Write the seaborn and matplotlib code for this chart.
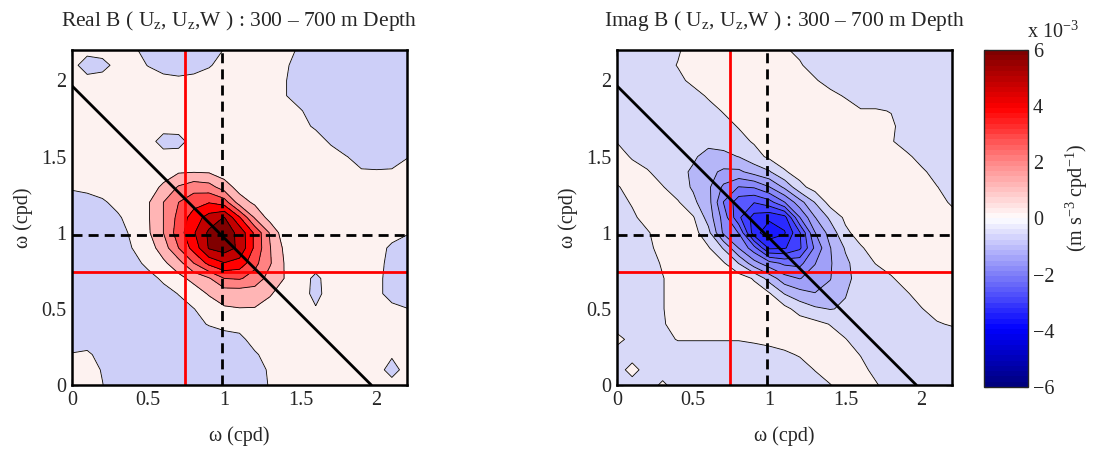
import numpy as np
import matplotlib
matplotlib.use("Agg")
import matplotlib.pyplot as plt
import seaborn as sns
from matplotlib.colors import Normalize, ListedColormap
from matplotlib.cm import ScalarMappable

# ---------------- data (values in units of 1e-3 m s^-3 cpd^-1) ----------------
omega = [0.0, 0.1, 0.2, 0.3, 0.4, 0.5, 0.6, 0.7, 0.8, 0.9, 1.0, 1.1,
         1.2, 1.3, 1.4, 1.5, 1.6, 1.7, 1.8, 1.9, 2.0, 2.1, 2.2]

# rows: omega_2 (y) from 0.0 to 2.2 ; columns: omega_1 (x) from 0.0 to 2.2
real_B = [
    [0.3, 0.3, 0.02, -0.4, -0.4, -0.4, -0.4, -0.4, -0.4, -0.4, -0.4, -0.4, -0.3, 0.05, 0.3, 0.3, 0.3, 0.3, 0.3, 0.3, 0.3, 0.3, 0.3],
    [0.3, 0.3, -0.05, -0.4, -0.4, -0.4, -0.4, -0.4, -0.4, -0.4, -0.4, -0.4, -0.3, 0.1, 0.3, 0.3, 0.3, 0.3, 0.3, 0.3, 0.3, -0.3, 0.3],
    [0.05, 0.15, -0.3, -0.4, -0.4, -0.4, -0.4, -0.4, -0.4, -0.4, -0.4, -0.4, -0.1, 0.3, 0.3, 0.3, 0.3, 0.3, 0.3, 0.3, 0.3, 0.1, 0.3],
    [-0.4, -0.4, -0.4, -0.4, -0.4, -0.4, -0.4, -0.4, -0.4, -0.4, -0.4, -0.2, 0.3, 0.3, 0.3, 0.3, 0.3, 0.3, 0.3, 0.3, 0.3, 0.3, 0.3],
    [-0.4, -0.4, -0.4, -0.4, -0.4, -0.4, -0.4, -0.4, -0.2, 0.05, 0.3, 0.3, 0.3, 0.3, 0.3, 0.3, 0.3, 0.3, 0.3, 0.3, 0.3, 0.3, 0.3],
    [-0.4, -0.4, -0.4, -0.4, -0.4, -0.4, -0.4, -0.2, -0.02, 0.4, 0.9, 0.97, 0.95, 0.6, 0.35, 0.3, 0.05, 0.3, 0.3, 0.3, 0.3, 0.2, 0.02],
    [-0.4, -0.4, -0.4, -0.4, -0.4, -0.4, -0.2, 0.02, 0.5, 1.1, 1.4, 1.4, 1.45, 1.1, 0.5, 0.3, -0.2, 0.3, 0.3, 0.3, 0.2, -0.3, -0.4],
    [-0.4, -0.4, -0.4, -0.4, -0.4, -0.2, 0.1, 0.7, 1.3, 1.9, 3.0, 3.1, 2.6, 1.6, 0.95, 0.3, -0.15, 0.3, 0.3, 0.3, 0.2, -0.3, -0.4],
    [-0.4, -0.4, -0.4, -0.4, -0.2, 0.15, 0.8, 1.6, 3.0, 4.3, 4.95, 4.6, 3.3, 2.1, 0.9, 0.3, 0.3, 0.3, 0.3, 0.3, 0.2, -0.2, -0.4],
    [-0.4, -0.4, -0.4, -0.3, 0.02, 0.5, 1.5, 3.0, 4.4, 6.1, 6.5, 5.8, 3.8, 2.05, 0.75, 0.3, 0.3, 0.3, 0.3, 0.3, 0.2, -0.1, -0.3],
    [-0.4, -0.4, -0.4, -0.2, 0.1, 0.85, 2.0, 3.5, 4.9, 6.2, 6.6, 5.7, 3.8, 1.9, 0.3, 0.3, 0.3, 0.3, 0.3, 0.3, 0.3, 0.2, 0.05],
    [-0.4, -0.4, -0.3, -0.1, 0.3, 0.9, 2.0, 3.3, 4.5, 5.4, 6.05, 4.1, 1.9, 0.6, 0.3, 0.3, 0.3, 0.3, 0.3, 0.3, 0.3, 0.3, 0.3],
    [-0.3, -0.3, -0.1, 0.2, 0.4, 0.9, 2.0, 3.0, 3.6, 3.95, 3.5, 1.5, 0.8, 0.3, 0.3, 0.3, 0.3, 0.3, 0.3, 0.3, 0.3, 0.3, 0.3],
    [0.08, 0.2, 0.3, 0.3, 0.35, 0.5, 1.2, 2.1, 2.6, 2.4, 1.5, 0.6, 0.3, 0.3, 0.3, 0.3, 0.3, 0.3, 0.3, 0.3, 0.3, 0.3, 0.3],
    [0.3, 0.3, 0.3, 0.3, 0.3, 0.35, 0.5, 0.9, 0.95, 0.9, 0.5, 0.3, 0.3, 0.3, 0.3, 0.3, 0.3, 0.3, 0.3, 0.05, 0.05, 0.05, 0.15],
    [0.3, 0.3, 0.3, 0.3, 0.3, 0.3, 0.3, 0.3, 0.3, 0.3, 0.3, 0.3, 0.3, 0.3, 0.3, 0.3, 0.3, 0.3, 0.02, -0.2, -0.3, -0.2, -0.02],
    [0.3, 0.3, 0.3, 0.3, 0.3, 0.3, -0.3, -0.25, 0.3, 0.3, 0.3, 0.3, 0.3, 0.3, 0.3, 0.3, 0.3, -0.1, -0.35, -0.4, -0.4, -0.4, -0.3],
    [0.3, 0.3, 0.3, 0.3, 0.3, 0.3, 0.3, 0.3, 0.3, 0.3, 0.3, 0.3, 0.3, 0.3, 0.3, 0.2, -0.1, -0.3, -0.4, -0.4, -0.4, -0.4, -0.4],
    [0.3, 0.3, 0.3, 0.3, 0.3, 0.3, 0.3, 0.3, 0.3, 0.3, 0.3, 0.3, 0.3, 0.3, 0.3, 0.05, -0.3, -0.4, -0.4, -0.4, -0.4, -0.4, -0.4],
    [0.3, 0.3, 0.3, 0.3, 0.3, 0.3, 0.3, 0.3, 0.3, 0.3, 0.3, 0.3, 0.3, 0.3, 0.03, -0.3, -0.4, -0.4, -0.4, -0.4, -0.4, -0.4, -0.4],
    [0.3, 0.2, 0.25, 0.3, 0.3, 0.25, 0.15, 0.1, 0.15, 0.25, 0.3, 0.3, 0.3, 0.3, 0.03, -0.3, -0.4, -0.4, -0.4, -0.4, -0.4, -0.4, -0.4],
    [0.2, -0.3, -0.2, 0.2, 0.2, -0.02, -0.2, -0.25, -0.2, -0.05, 0.2, 0.3, 0.3, 0.3, 0.1, -0.3, -0.4, -0.4, -0.4, -0.4, -0.4, -0.4, -0.4],
    [0.3, 0.2, 0.25, 0.3, 0.1, -0.2, -0.3, -0.3, -0.3, -0.2, 0.02, 0.3, 0.3, 0.3, 0.2, -0.1, -0.4, -0.4, -0.4, -0.4, -0.4, -0.4, -0.4],
]

imag_B = [
    [-0.3, -0.3, -0.3, 0.12, -0.3, -0.3, -0.3, -0.3, -0.3, -0.3, -0.3, -0.3, -0.3, -0.25, -0.02, 0.25, 0.25, 0.05, -0.25, -0.3, -0.3, -0.3, -0.3],
    [-0.3, 0.25, -0.3, -0.3, -0.3, -0.3, -0.3, -0.3, -0.3, -0.3, -0.3, -0.3, -0.25, 0.02, 0.25, 0.25, 0.15, -0.15, -0.3, -0.3, -0.3, -0.3, -0.3],
    [-0.3, -0.3, -0.3, -0.3, -0.3, -0.3, -0.3, -0.3, -0.3, -0.3, -0.25, -0.1, 0.05, 0.25, 0.25, 0.2, -0.02, -0.3, -0.3, -0.3, -0.3, -0.3, -0.3],
    [0.2, -0.2, -0.3, -0.15, 0.03, 0.03, 0.03, 0.03, 0.03, 0.1, 0.2, 0.25, 0.25, 0.25, 0.2, 0.02, -0.25, -0.3, -0.3, -0.3, -0.3, -0.3, -0.3],
    [-0.3, -0.3, -0.25, -0.05, 0.2, 0.25, 0.25, 0.25, 0.25, 0.25, 0.25, 0.25, 0.25, 0.15, -0.02, -0.25, -0.3, -0.3, -0.3, -0.3, -0.25, -0.05, 0.05],
    [-0.3, -0.3, -0.25, -0.02, 0.2, 0.25, 0.25, 0.25, 0.25, 0.25, 0.25, 0.15, -0.2, -0.42, -0.52, -0.45, -0.3, -0.3, -0.3, -0.25, -0.02, 0.2, 0.25],
    [-0.3, -0.3, -0.25, -0.02, 0.2, 0.25, 0.25, 0.25, 0.25, 0.25, 0.05, -0.52, -0.8, -0.98, -0.85, -0.52, -0.3, -0.3, -0.25, -0.05, 0.2, 0.25, 0.25],
    [-0.3, -0.3, -0.25, -0.02, 0.2, 0.25, 0.25, 0.25, 0.25, -0.05, -0.7, -1.3, -1.52, -1.3, -1.02, -0.6, -0.35, -0.25, -0.05, 0.2, 0.25, 0.25, 0.25],
    [-0.3, -0.3, -0.2, 0.05, 0.25, 0.25, 0.25, 0.05, -0.52, -1.3, -1.8, -2.1, -2.15, -1.52, -1.05, -0.6, -0.25, 0.02, 0.2, 0.25, 0.25, 0.25, 0.25],
    [-0.3, -0.3, -0.1, 0.15, 0.25, 0.25, 0.05, -0.55, -1.52, -2.3, -3.6, -3.55, -3.1, -1.9, -1.02, -0.45, -0.05, 0.2, 0.25, 0.25, 0.25, 0.25, 0.25],
    [-0.3, -0.25, -0.05, 0.25, 0.25, 0.2, -0.35, -1.6, -2.02, -3.8, -4.3, -4.05, -3.05, -1.52, -0.8, -0.1, 0.2, 0.25, 0.25, 0.25, 0.25, 0.25, 0.25],
    [-0.3, -0.1, 0.2, 0.25, 0.2, 0.05, -0.7, -1.7, -2.9, -3.7, -3.9, -3.7, -2.02, -1.02, -0.4, 0.1, 0.25, 0.25, 0.25, 0.25, 0.25, 0.25, 0.25],
    [-0.2, 0.05, 0.25, 0.25, 0.05, -0.4, -0.8, -2.02, -2.8, -2.98, -2.7, -2.02, -1.2, -0.48, 0.2, 0.25, 0.25, 0.25, 0.25, 0.25, 0.25, 0.25, -0.1],
    [-0.05, 0.2, 0.2, 0.03, -0.3, -0.55, -0.9, -1.6, -2.02, -1.95, -1.52, -0.9, -0.15, 0.2, 0.25, 0.25, 0.25, 0.25, 0.25, 0.25, 0.25, 0.02, -0.25],
    [0.25, 0.2, 0.05, -0.25, -0.4, -0.55, -0.85, -1.1, -1.1, -0.8, -0.55, -0.05, 0.2, 0.25, 0.25, 0.25, 0.25, 0.25, 0.25, 0.25, 0.1, -0.2, -0.3],
    [0.2, -0.05, -0.25, -0.3, -0.35, -0.45, -0.62, -0.6, -0.49, -0.2, 0.1, 0.25, 0.25, 0.25, 0.25, 0.25, 0.25, 0.25, 0.25, 0.12, -0.2, -0.3, -0.3],
    [-0.02, -0.3, -0.3, -0.3, -0.3, -0.35, -0.4, -0.35, -0.15, 0.05, 0.25, 0.25, 0.25, 0.25, 0.25, 0.25, 0.25, 0.25, 0.05, -0.25, -0.3, -0.3, -0.3],
    [-0.3, -0.3, -0.3, -0.3, -0.3, -0.3, -0.3, -0.15, 0.03, 0.25, 0.25, 0.25, 0.25, 0.25, 0.25, 0.25, 0.25, 0.25, 0.1, -0.25, -0.3, -0.3, -0.3],
    [-0.3, -0.3, -0.3, -0.3, -0.3, -0.3, -0.15, 0.03, 0.25, 0.25, 0.25, 0.25, 0.25, 0.25, 0.25, 0.25, 0.05, 0.05, -0.02, -0.3, -0.3, -0.3, -0.3],
    [-0.3, -0.3, -0.3, -0.3, -0.3, -0.15, 0.05, 0.25, 0.25, 0.25, 0.25, 0.25, 0.25, 0.25, 0.15, -0.05, -0.3, -0.3, -0.3, -0.3, -0.3, -0.3, -0.3],
    [-0.3, -0.3, -0.3, -0.3, -0.1, 0.1, 0.25, 0.25, 0.25, 0.25, 0.25, 0.25, 0.25, 0.05, -0.2, -0.3, -0.3, -0.3, -0.3, -0.3, -0.3, -0.3, -0.3],
    [-0.3, -0.3, -0.3, -0.15, 0.02, 0.25, 0.25, 0.25, 0.25, 0.25, 0.25, 0.25, 0.05, -0.2, -0.3, -0.3, -0.3, -0.3, -0.3, -0.3, -0.3, -0.3, -0.3],
    [-0.3, -0.3, -0.3, -0.25, -0.05, 0.2, 0.25, 0.25, 0.25, 0.25, 0.2, 0.05, -0.1, -0.3, -0.3, -0.3, -0.3, -0.3, -0.3, -0.3, -0.3, -0.3, -0.3],
]

real_levels = [-1, 0, 1, 2, 3, 4, 5, 6, 7]
imag_levels = [-4.5, -4, -3.5, -3, -2.5, -2, -1.5, -1, -0.5, 0, 0.5]

f_cpd = 0.74          # red lines
k1_cpd = 0.985        # dashed lines
sum_cpd = 1.965       # diagonal omega1 + omega2

titles = ["Real B ( U$_{\\rm z}$, U$_{\\rm z}$,W ) : 300 \u2013 700 m Depth",
          "Imag B ( U$_{\\rm z}$, U$_{\\rm z}$,W ) : 300 \u2013 700 m Depth"]
tick_vals = [0, 0.5, 1, 1.5, 2]
tick_labels = ["0", "0.5", "1", "1.5", "2"]
cbar_ticks = [-6, -4, -2, 0, 2, 4, 6]

# fill colours of the contour bands (one per band, low to high)
real_fill = ["#CDCFF8", "#FDF2F0", "#FFB5B5", "#FF8282", "#FF4747",
             "#FF0000", "#C20000", "#800000"]
imag_fill = ["#1818FF", "#2A2AFF", "#4040FF", "#5858FF", "#7070FF",
             "#8989F9", "#A0A0F8", "#B5B6F8", "#D8D9F8", "#FDF2F0"]

# ---------------- style ----------------
sns.set_style("white")
plt.rcParams["font.family"] = ["Liberation Serif", "DejaVu Serif"]
plt.rcParams["mathtext.fontset"] = "custom"
plt.rcParams["mathtext.rm"] = "Liberation Serif"
plt.rcParams["mathtext.it"] = "Liberation Serif:italic"
plt.rcParams["mathtext.bf"] = "Liberation Serif:bold"
plt.rcParams["axes.unicode_minus"] = True
FS = 14.5
FS_TITLE = 15.5

cmap = sns.blend_palette(["#00007F", "#0000FF", "#8080F8", "#FFFFFF",
                          "#FF8A8A", "#FF0000", "#7F0000"], as_cmap=True)
cmap64 = ListedColormap(cmap(np.linspace(0, 1, 64)))
norm = Normalize(-6, 6)

fig = plt.figure(figsize=(10.97, 4.5), dpi=100)
ax_pos = [[0.0656, 0.1444, 0.3055, 0.7444], [0.5624, 0.1444, 0.3055, 0.7444]]

x = np.array(omega)
y = np.array(omega)
panels = [(real_B, real_levels, real_fill), (imag_B, imag_levels, imag_fill)]
for k, (Z, lev, fills) in enumerate(panels):
    ax = fig.add_axes(ax_pos[k])
    Zarr = np.array(Z)
    ax.contourf(x, y, Zarr, levels=lev, colors=fills)
    ax.contour(x, y, Zarr, levels=lev, colors="k", linewidths=0.6,
               linestyles="solid")
    ax.axvline(f_cpd, color="#FF0000", lw=2.0)
    ax.axhline(f_cpd, color="#FF0000", lw=2.0)
    ax.axvline(k1_cpd, color="k", lw=2.0, ls=(0, (3.6, 2.2)))
    ax.axhline(k1_cpd, color="k", lw=2.0, ls=(0, (3.6, 2.2)))
    ax.plot([0, sum_cpd], [sum_cpd, 0], color="k", lw=2.0)
    ax.set_xlim(0, 2.2)
    ax.set_ylim(0, 2.2)
    ax.set_xticks(tick_vals)
    ax.set_xticklabels(tick_labels)
    ax.set_yticks(tick_vals)
    ax.set_yticklabels(tick_labels)
    ax.tick_params(direction="in", length=4, width=1, top=True, right=True,
                   bottom=True, left=True, labelsize=FS, pad=4, color="k")
    for s in ax.spines.values():
        s.set_linewidth(1.8)
        s.set_color("k")
    ax.set_xlabel("\u03c9 (cpd)", fontsize=FS, labelpad=12)
    ax.set_ylabel("\u03c9 (cpd)", fontsize=FS, labelpad=6)
    ax.set_title(titles[k], fontsize=FS_TITLE, pad=17)

cax = fig.add_axes([0.897, 0.14, 0.0401, 0.749])
sm = ScalarMappable(norm=norm, cmap=cmap64)
cb = fig.colorbar(sm, cax=cax, ticks=cbar_ticks)
cb.ax.tick_params(direction="in", length=3, labelsize=FS, right=True, left=True)
cb.outline.set_linewidth(1.0)
fig.text(0.936, 0.915, "x 10$^{-3}$", fontsize=FS, ha="left", va="baseline")
fig.text(0.982, 0.56, "(m s$^{-3}$ cpd$^{-1}$)", fontsize=FS, rotation=90,
         ha="center", va="center")

fig.savefig("out.png", dpi=100)
